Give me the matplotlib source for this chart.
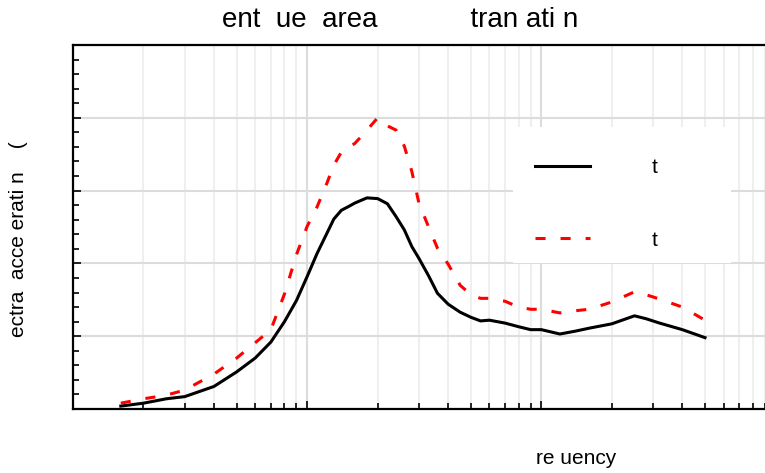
import matplotlib
matplotlib.use("Agg")
import matplotlib.pyplot as plt
from matplotlib.patches import Rectangle
from matplotlib.ticker import LogLocator, MultipleLocator, NullFormatter

plt.rcParams['font.family'] = ['Liberation Sans', 'DejaVu Sans']

# frequency points
freq = [0.16, 0.2, 0.25, 0.3, 0.4, 0.5, 0.6, 0.7, 0.8, 0.9, 1.0, 1.1, 1.2, 1.3,
        1.4, 1.5, 1.6, 1.8, 2.0, 2.2, 2.4, 2.6, 2.8, 3.0, 3.3, 3.6, 4.0, 4.5,
        5.0, 5.5, 6.0, 7.0, 8.0, 9.0, 10, 12, 14, 16, 20, 25, 28, 32, 40, 50]

solid_vals = [0.04, 0.08, 0.14, 0.17, 0.31, 0.51, 0.70, 0.92, 1.20, 1.49, 1.82,
              2.13, 2.38, 2.61, 2.73, 2.78, 2.83, 2.90, 2.89, 2.82, 2.64, 2.46,
              2.23, 2.07, 1.83, 1.59, 1.44, 1.33, 1.26, 1.21, 1.22, 1.18, 1.13,
              1.09, 1.09, 1.03, 1.07, 1.11, 1.17, 1.28, 1.24, 1.18, 1.09, 0.98]

dashed_vals = [0.08, 0.14, 0.19, 0.26, 0.48, 0.70, 0.91, 1.09, 1.58, 2.12, 2.51,
               2.77, 3.06, 3.35, 3.53, 3.59, 3.65, 3.83, 4.00, 3.89, 3.83, 3.61,
               3.26, 2.83, 2.50, 2.21, 1.99, 1.70, 1.57, 1.52, 1.52, 1.48, 1.40,
               1.37, 1.37, 1.32, 1.35, 1.37, 1.47, 1.61, 1.57, 1.51, 1.40, 1.22]

labels = ["t", "t"]
title_text = "ent  ue  area            tran ati n"
xlabel_text = "re uency"
ylabel_text = "ectra  acce erati n    ("

W, H = 765, 473
fig = plt.figure(figsize=(W / 100, H / 100), dpi=100)
# the axes run past the right edge of the picture
ax = fig.add_axes([73 / W, (H - 409) / H, 702.5 / W, 364 / H])

ax.plot(freq, solid_vals, color='black', lw=2.2, label=labels[0], zorder=3)
ax.plot(freq, dashed_vals, color='red', lw=2.2, dashes=(3.3, 4.9),
        label=labels[1], zorder=3)

ax.set_xscale('log')
ax.set_xlim(0.1, 100)
ax.set_ylim(0, 5)

ax.xaxis.set_major_locator(LogLocator(base=10))
ax.xaxis.set_minor_locator(LogLocator(base=10, subs=range(2, 10)))
ax.yaxis.set_major_locator(MultipleLocator(1))
ax.yaxis.set_minor_locator(MultipleLocator(0.2))
ax.xaxis.set_major_formatter(NullFormatter())
ax.xaxis.set_minor_formatter(NullFormatter())
ax.yaxis.set_major_formatter(NullFormatter())

ax.grid(True, which='major', color='#dcdcdc', lw=1.5)
ax.grid(True, which='minor', axis='x', color='#efefef', lw=1.5)
ax.set_axisbelow(True)

ax.tick_params(which='both', direction='in', top=False, right=False, width=1.2)
ax.tick_params(which='major', length=6)
ax.tick_params(which='minor', length=4)
for side in ['left', 'bottom', 'top']:
    ax.spines[side].set_linewidth(1.6)

# white legend panel
ax.add_patch(Rectangle((0.626, 0.401), 0.311, 0.374, transform=ax.transAxes,
                       facecolor='white', edgecolor='none', zorder=1.5))
ax.legend(loc='upper left', bbox_to_anchor=(0.631, 0.74), frameon=False,
          fontsize=15, handlelength=2.64, handletextpad=2.98, labelspacing=2.56)

fig.text(222 / W, 1 - 20 / H, title_text, fontsize=20, ha='left', va='center')
fig.text(536 / W, 1 - 458 / H, xlabel_text, fontsize=15, ha='left', va='center')
fig.text(19 / W, 1 - 239 / H, ylabel_text, fontsize=15, rotation=90,
         ha='center', va='center')

fig.savefig("out.png", dpi=100)
